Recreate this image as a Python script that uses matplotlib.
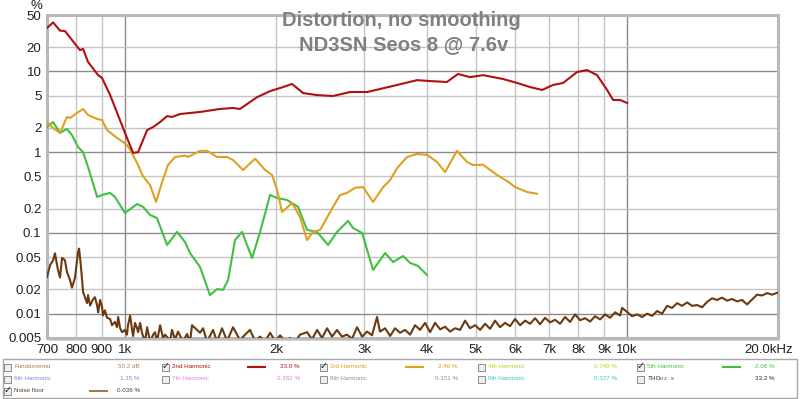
import matplotlib
matplotlib.use("Agg")
import matplotlib.pyplot as plt
from matplotlib.ticker import FixedLocator, FixedFormatter
from matplotlib.patches import Rectangle
from matplotlib.transforms import ScaledTranslation

plt.rcParams["font.family"] = ["Liberation Sans", "DejaVu Sans"]

# ---- data (Hz, %) ----
h2_freq = [700, 720, 743, 760, 785, 814, 826, 845, 885, 901, 935, 956, 1001, 1039,
           1063, 1108, 1139, 1176, 1214, 1242, 1289, 1412, 1548, 1643, 1696, 1834,
           1947, 2066, 2154, 2265, 2416, 2598, 2810, 3038, 3223, 3487, 3820, 4056,
           4382, 4609, 4871, 5170, 5669, 6046, 6418, 6780, 7130, 7465, 7959, 8332,
           8723, 9133, 9388, 9695, 10012]
h2_pct = [34.5, 40.5, 32.0, 31.7, 24.5, 18.4, 19.0, 13.1, 9.0, 8.3, 5.1, 3.6, 1.73, 0.98,
          1.0, 1.88, 2.05, 2.36, 2.8, 2.73, 2.97, 3.15, 3.43, 3.53, 3.43, 4.8,
          5.7, 6.4, 7.0, 5.4, 5.1, 4.96, 5.56, 5.56, 6.06, 6.8, 7.8, 7.6,
          7.4, 9.3, 8.5, 9.0, 8.06, 7.2, 6.4, 5.9, 6.8, 7.2, 9.84, 10.4,
          9.0, 5.9, 4.43, 4.43, 4.07]

h3_freq = [700, 720, 743, 767, 778, 803, 826, 845, 881, 901, 922, 965, 979, 1010, 1025,
           1058, 1088, 1123, 1154, 1186, 1219, 1259, 1318, 1337, 1412, 1458, 1527,
           1599, 1643, 1720, 1818, 1903, 1965, 2011, 2057, 2154, 2234, 2307, 2371,
           2449, 2598, 2684, 2771, 2875, 2983, 3123, 3270, 3377, 3487, 3649, 3820,
           4000, 4188, 4345, 4588, 4804, 4940, 5170, 5514, 5799, 5989, 6327, 6625]
h3_pct = [2.36, 1.99, 1.73, 2.73, 2.65, 3.06, 3.43, 2.89, 2.58, 2.50, 1.88, 1.50, 1.42, 1.23, 1.065,
          0.738, 0.498, 0.392, 0.242, 0.421, 0.694, 0.872, 0.907, 0.872, 1.04, 1.04, 0.872,
          0.872, 0.80, 0.602, 0.832, 0.602, 0.522, 0.340, 0.181, 0.236, 0.157, 0.0817, 0.103,
          0.109, 0.210, 0.295, 0.313, 0.362, 0.370, 0.242, 0.370, 0.452, 0.637, 0.872, 0.950,
          0.929, 0.756, 0.568, 1.04, 0.756, 0.694, 0.70, 0.522, 0.431, 0.370, 0.321, 0.306]

h5_freq = [700, 720, 743, 767, 785, 807, 826, 845, 881, 901, 935, 956, 1001, 1058,
           1088, 1123, 1159, 1214, 1271, 1318, 1349, 1412, 1478, 1527, 1569, 1606,
           1658, 1712, 1793, 1860, 1947, 2011, 2105, 2214, 2307, 2416, 2540, 2647,
           2784, 2849, 2969, 3123, 3300, 3423, 3583, 3700, 3838, 4000]
h5_pct = [2.05, 2.36, 1.73, 1.94, 1.63, 1.16, 1.0, 0.656, 0.279, 0.295, 0.313, 0.279, 0.177, 0.228,
          0.210, 0.167, 0.153, 0.0709, 0.103, 0.0772, 0.0564, 0.0379, 0.0170, 0.0202, 0.0197, 0.0261,
          0.0817, 0.103, 0.0489, 0.103, 0.295, 0.271, 0.256, 0.210, 0.109, 0.103, 0.0709, 0.103,
          0.141, 0.115, 0.100, 0.0348, 0.0564, 0.0436, 0.0518, 0.0426, 0.0390, 0.0301]

noise_freq = [700, 710, 720, 726, 736, 743, 750, 760, 767, 778, 785, 796, 807, 811, 818,
              826, 841, 845, 853, 864, 872, 881, 885, 893, 901, 905, 913, 922, 935, 943,
              956, 965, 970, 979, 988, 1001, 1010, 1015, 1025, 1034, 1039, 1048, 1058,
              1063, 1073, 1082, 1097, 1108, 1123, 1139, 1149, 1159, 1176, 1192, 1203,
              1219, 1231, 1242, 1259, 1277, 1289, 1306, 1331, 1349, 1361, 1393, 1412,
              1432, 1458, 1499, 1527, 1562, 1599, 1643, 1696, 1736, 1776, 1818, 1860,
              1903, 1947, 1993, 2039, 2086, 2134, 2183, 2234, 2307, 2360, 2416, 2471,
              2529, 2587, 2647, 2708, 2771, 2836, 2902, 2969, 3038, 3108, 3180, 3223,
              3300, 3377, 3454, 3534, 3616, 3700, 3786, 3873, 3964, 4056, 4150, 4247,
              4345, 4445, 4548, 4654, 4762, 4871, 4987, 5102, 5220, 5342, 5462, 5590,
              5719, 5852, 5989, 6129, 6272, 6418, 6565, 6717, 6872, 7032, 7195, 7362,
              7533, 7707, 7886, 8069, 8257, 8449, 8644, 8845, 9049, 9260, 9475, 9695,
              9784, 10012, 10244, 10483, 10724, 10974, 11229, 11488, 11756, 12025,
              12305, 12592, 12883, 13182, 13487, 13800, 14122, 14447, 14783, 15124,
              15476, 15837, 16201, 16579, 16960, 17356, 17760, 18169, 18592, 19020,
              19463, 20006]
noise_pct = [0.0285, 0.040, 0.046, 0.056, 0.035, 0.028, 0.049, 0.046, 0.033, 0.026, 0.021, 0.028, 0.058, 0.064, 0.038,
             0.0185, 0.0135, 0.017, 0.0126, 0.0150, 0.016, 0.0126, 0.0104, 0.0148, 0.0121, 0.0095, 0.011, 0.0089, 0.0086, 0.0072,
             0.0079, 0.0068, 0.0091, 0.0066, 0.0059, 0.0063, 0.0055, 0.0072, 0.0095, 0.0063, 0.0053, 0.0077, 0.0066,
             0.0059, 0.0077, 0.0058, 0.0045, 0.0068, 0.0045, 0.0055, 0.0059, 0.0045, 0.0072, 0.0050, 0.0055,
             0.0050, 0.0046, 0.0063, 0.0048, 0.0060, 0.0053, 0.0046, 0.0056, 0.0044, 0.0072, 0.0063, 0.0058,
             0.0066, 0.0045, 0.0063, 0.0045, 0.0066, 0.0046, 0.0068, 0.0047, 0.0055, 0.0063, 0.0046, 0.0052,
             0.0045, 0.0058, 0.0046, 0.0054, 0.0045, 0.0050, 0.0045, 0.0055, 0.0059, 0.0048, 0.0063, 0.0050,
             0.0066, 0.0052, 0.0063, 0.0052, 0.0055, 0.0049, 0.0068, 0.0052, 0.0060, 0.0054, 0.0091, 0.0060,
             0.0066, 0.0053, 0.0066, 0.0058, 0.0063, 0.0055, 0.0072, 0.0063, 0.0077, 0.0059, 0.0077, 0.0064,
             0.0069, 0.0060, 0.0066, 0.0063, 0.0082, 0.0066, 0.0072, 0.0063, 0.0075, 0.0065, 0.0082, 0.0068,
             0.0077, 0.0070, 0.0086, 0.0072, 0.0082, 0.0075, 0.0088, 0.0074, 0.0089, 0.0078, 0.0084, 0.0075,
             0.0091, 0.0079, 0.0098, 0.0083, 0.0088, 0.0080, 0.0093, 0.0085, 0.0098, 0.0089, 0.0104, 0.0095,
             0.0118, 0.0105, 0.0093, 0.0098, 0.0091, 0.0100, 0.0094, 0.0108, 0.0100, 0.0125,
             0.0118, 0.0135, 0.0125, 0.0138, 0.0125, 0.0128, 0.0120, 0.0140, 0.0155, 0.0148,
             0.0158, 0.0145, 0.0152, 0.0142, 0.0148, 0.0130, 0.0150, 0.0172, 0.0168, 0.0180,
             0.0172, 0.0183]

x_ticks = [700, 800, 900, 1000, 2000, 3000, 4000, 5000, 6000, 7000, 8000, 9000, 10000, 20000]
x_labels = ["700", "800", "900", "1k", "2k", "3k", "4k", "5k", "6k", "7k", "8k", "9k", "10k", "20.0kHz"]
y_ticks = [0.005, 0.01, 0.02, 0.05, 0.1, 0.2, 0.5, 1, 2, 5, 10, 20, 50]
y_labels = ["0.005", "0.01", "0.02", "0.05", "0.1", "0.2", "0.5", "1", "2", "5", "10", "20", "50"]

# legend table: (name, value text, colour, checked)
legend_rows = [
    [("Fundamental", "50.2 dB", "#a8805a", False), ("2nd Harmonic", "33.0 %", "#b01010", True),
     ("3rd Harmonic", "2.46 %", "#e0a020", True), ("4th Harmonic", "0.749 %", "#c8c820", False),
     ("5th Harmonic", "2.06 %", "#40c040", True)],
    [("6th Harmonic", "1.15 %", "#6a90d8", False), ("7th Harmonic", "0.282 %", "#e080e0", False),
     ("8th Harmonic", "0.151 %", "#909090", False), ("9th Harmonic", "0.327 %", "#30c8d0", False),
     ("THD$_{\\mathrm{H2..9}}$", "33.2 %", "#303030", False)],
    [("Noise floor", "0.036 %", "#5a3a20", True)],
]
legend_line_colors = {"Noise floor": "#a07a55"}

W, H = 800, 399


def fx(x):
    return x / W


def fy(y):
    return 1 - y / H


fig = plt.figure(figsize=(8, 3.99), dpi=100)
fig.patch.set_facecolor("white")

left, right, top, bottom = 47, 778, 15, 338
# drop shadow behind the plot frame
fig.patches.append(Rectangle((fx(left + 2), fy(bottom + 3)), fx(right - left), (bottom - top) / H,
                             transform=fig.transFigure, facecolor="#d8d8d8", edgecolor="none", zorder=-5))
ax = fig.add_axes([fx(left), fy(bottom), fx(right - left), (bottom - top) / H])
ax.set_facecolor("white")
ax.set_xscale("log")
ax.set_yscale("log")
ax.set_xlim(700, 20000)
ax.set_ylim(0.005, 50)

major_x = [1000, 10000]
major_y = [0.01, 0.1, 1, 10]
ax.xaxis.set_major_locator(FixedLocator(major_x))
ax.xaxis.set_minor_locator(FixedLocator([t for t in x_ticks if t not in major_x]))
ax.xaxis.set_major_formatter(FixedFormatter([x_labels[x_ticks.index(t)] for t in major_x]))
ax.xaxis.set_minor_formatter(FixedFormatter([x_labels[x_ticks.index(t)] for t in x_ticks if t not in major_x]))
ax.yaxis.set_major_locator(FixedLocator(major_y))
ax.yaxis.set_minor_locator(FixedLocator([t for t in y_ticks if t not in major_y]))
ax.yaxis.set_major_formatter(FixedFormatter([y_labels[y_ticks.index(t)] for t in major_y]))
ax.yaxis.set_minor_formatter(FixedFormatter([y_labels[y_ticks.index(t)] for t in y_ticks if t not in major_y]))

ax.tick_params(which="both", length=0, labelsize=9.5, labelcolor="#202020")
ax.tick_params(axis="x", which="both", pad=4)
ax.tick_params(axis="y", which="both", pad=4)
ax.grid(which="major", color="#8a8a8a", linewidth=1.0)
ax.grid(which="minor", color="#c4c4c4", linewidth=1.0)
ax.set_axisbelow(True)
for s in ax.spines.values():
    s.set_color("#b8b8b8")
    s.set_linewidth(2.2)

# keep the last x label ("20.0kHz") inside the figure, ending near the right edge
last = ax.xaxis.get_minor_ticks()[-1].label1
last.set_horizontalalignment("right")
last.set_transform(last.get_transform() + ScaledTranslation(0.15, 0, fig.dpi_scale_trans))

ax.plot(noise_freq, noise_pct, color="#6b3a10", linewidth=1.5, zorder=3)
ax.plot(h5_freq, h5_pct, color="#40c040", linewidth=1.5, zorder=4)
ax.plot(h3_freq, h3_pct, color="#e0a020", linewidth=1.5, zorder=5)
ax.plot(h2_freq, h2_pct, color="#b01010", linewidth=1.5, zorder=6)

fig.text(fx(36), fy(6), "%", fontsize=9.5, color="#202020", ha="center", va="center")
fig.text(fx(401), fy(20), "Distortion, no smoothing", fontsize=14.5, fontweight="bold",
         color="#808080", ha="center", va="center")
fig.text(fx(404), fy(45), "ND3SN Seos 8 @ 7.6v", fontsize=14.5, fontweight="bold",
         color="#808080", ha="center", va="center")

# legend panel
fig.patches.append(Rectangle((fx(3), fy(398)), fx(794), 39 / H, transform=fig.transFigure,
                             facecolor="white", edgecolor="#a8a8a8", linewidth=1.0))
col_box = [4, 162, 320, 478, 637]
col_val = [140, 300, 458, 617, 775]
col_line = [(90, 107), (248, 265), (406, 423), (565, 582), (723, 740)]
row_y = [367, 379, 391]
for r, row in enumerate(legend_rows):
    y = row_y[r]
    for c, (name, val, color, checked) in enumerate(row):
        bx = col_box[c]
        fig.patches.append(Rectangle((fx(bx), fy(y + 3.5)), 7 / W, 7 / H, transform=fig.transFigure,
                                     facecolor="#eeeeee", edgecolor="#8c8c8c", linewidth=0.7))
        if checked:
            fig.text(fx(bx + 3.8), fy(y - 0.5), "\u2713", fontsize=7, color="#202020",
                     ha="center", va="center", family="DejaVu Sans")
            lx = col_line[c]
            fig.lines.append(plt.Line2D([fx(lx[0]), fx(lx[1])], [fy(y), fy(y)], transform=fig.transFigure,
                                        color=legend_line_colors.get(name, color), linewidth=1.5))
        fig.text(fx(bx + 10), fy(y), name, fontsize=4.5, color=color, ha="left", va="center")
        fig.text(fx(col_val[c]), fy(y), val, fontsize=4.5, color=color, ha="right", va="center")

fig.savefig("out.png", dpi=100)
